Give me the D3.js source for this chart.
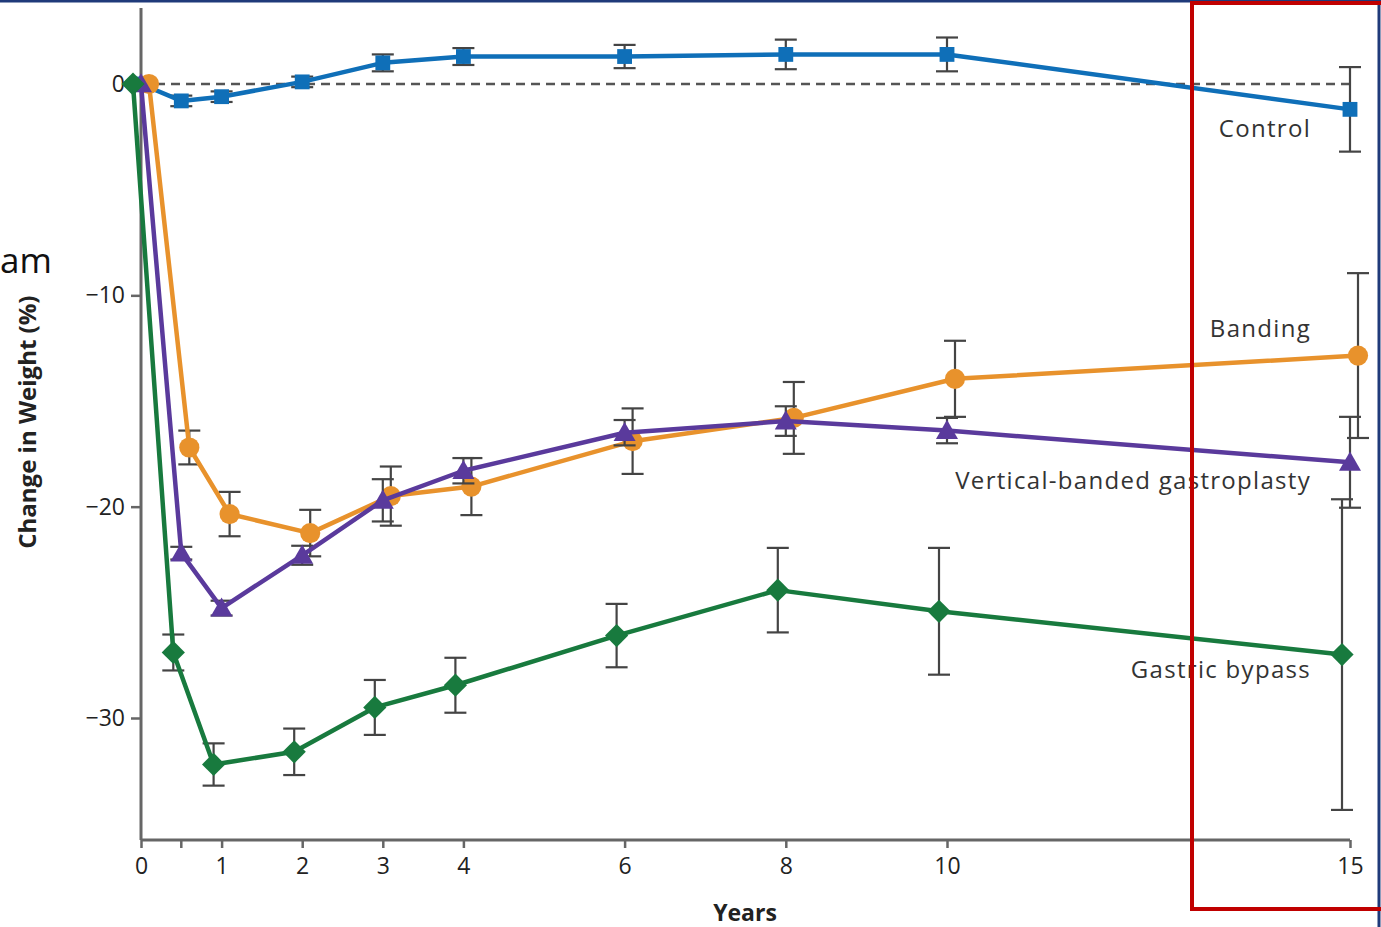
<!DOCTYPE html>
<html>
<head>
<meta charset="utf-8">
<script src="https://cdn.jsdelivr.net/npm/d3@7"></script>
<style>
  html, body { margin: 0; padding: 0; background: #fff; }
  svg { display: block; }
</style>
</head>
<body>
<svg id="chart" width="1381" height="927"></svg>
<script>
// ---- data ----
const years = [0, 0.5, 1, 2, 3, 4, 6, 8, 10, 15];
const xTickValues = [0, 1, 2, 3, 4, 6, 8, 10, 15];
const xMinorTicks = [0.5];
const yTickValues = [0, -10, -20, -30];

const controlValues = [0, -0.8, -0.6, 0.1, 1.0, 1.3, 1.3, 1.4, 1.4, -1.2];
const controlErrors = [0, 0.25, 0.25, 0.25, 0.4, 0.4, 0.55, 0.7, 0.8, 2.0];

const bandingValues = [0, -17.2, -20.35, -21.25, -19.5, -19.05, -16.9, -15.8, -13.95, -12.85];
const bandingErrors = [0, 0.8, 1.05, 1.1, 1.4, 1.35, 1.55, 1.7, 1.8, 3.9];

const vbgValues = [0, -22.2, -24.8, -22.3, -19.7, -18.3, -16.5, -15.95, -16.4, -17.9];
const vbgErrors = [0, 0.3, 0.35, 0.45, 1.0, 0.6, 0.6, 0.7, 0.6, 2.15];

const bypassValues = [0, -26.9, -32.2, -31.6, -29.5, -28.45, -26.1, -23.95, -24.95, -27.0];
const bypassErrors = [0, 0.85, 1.0, 1.1, 1.3, 1.3, 1.5, 2.0, 3.0, 7.35];

const seriesNames = ["Control", "Banding", "Vertical-banded gastroplasty", "Gastric bypass"];

// ---- styles ----
const styles = {
  "Control": { color: "#0f6fb8", symbol: d3.symbolSquare, size: 220, rotate: 0, dx: 0, labelY: -2.2 },
  "Banding": { color: "#e8922c", symbol: d3.symbolCircle, size: 320, rotate: 0, dx: 8, labelY: -11.65 },
  "Vertical-banded gastroplasty": { color: "#5a3a9c", symbol: d3.symbolTriangle, size: 210, rotate: 0, dx: 0, labelY: -18.85 },
  "Gastric bypass": { color: "#187a3e", symbol: d3.symbolSquare, size: 270, rotate: 45, dx: -8, labelY: -27.8 }
};

const series = [
  { name: seriesNames[0], values: controlValues, errors: controlErrors },
  { name: seriesNames[1], values: bandingValues, errors: bandingErrors },
  { name: seriesNames[2], values: vbgValues, errors: vbgErrors },
  { name: seriesNames[3], values: bypassValues, errors: bypassErrors }
];

const svg = d3.select("#chart");

const x = d3.scaleLinear().domain([0, 10, 15]).range([141, 947, 1350]);
const y = d3.scaleLinear().domain([0, -30]).range([84, 718]);
const yTop = 8, yBottom = 840;

const axisColor = "#666";
const labelFont = "'Open Sans', 'DejaVu Sans', sans-serif";

// zero dashed reference line
svg.append("line")
  .attr("x1", x(0)).attr("x2", x(15))
  .attr("y1", y(0)).attr("y2", y(0))
  .attr("stroke", "#555").attr("stroke-width", 2.5)
  .attr("stroke-dasharray", "9,6");

// axes
const yAxis = d3.axisLeft(y).tickValues(yTickValues).tickSize(10).tickFormat(d => d === 0 ? "0" : "\u2212" + Math.abs(d));
const yG = svg.append("g").attr("transform", `translate(${x(0)},0)`).call(yAxis);
yG.select(".domain").remove();
yG.append("line").attr("x1", 0).attr("x2", 0).attr("y1", yTop).attr("y2", yBottom)
  .attr("stroke", axisColor).attr("stroke-width", 3);
yG.selectAll(".tick line").attr("stroke", axisColor).attr("stroke-width", 2.5);
yG.selectAll(".tick text").attr("font-family", labelFont).attr("font-size", 23)
  .attr("fill", "#222").attr("x", -16);

const xAxis = d3.axisBottom(x).tickValues(xTickValues).tickSize(8).tickFormat(d3.format("d"));
const xG = svg.append("g").attr("transform", `translate(0,${yBottom})`).call(xAxis);
xG.select(".domain").remove();
xG.append("line").attr("x1", x(0)).attr("x2", x(15)).attr("y1", 0).attr("y2", 0)
  .attr("stroke", axisColor).attr("stroke-width", 3);
xG.selectAll(".tick line").attr("stroke", axisColor).attr("stroke-width", 2.5);
xG.selectAll(".tick text").attr("font-family", labelFont).attr("font-size", 23)
  .attr("fill", "#222").attr("y", 18);
xG.selectAll(".minor").data(xMinorTicks).enter().append("line")
  .attr("x1", d => x(d)).attr("x2", d => x(d)).attr("y1", 0).attr("y2", 8)
  .attr("stroke", axisColor).attr("stroke-width", 2.5);

// axis titles
svg.append("text")
  .attr("transform", `translate(36,${y(-16)}) rotate(-90)`)
  .attr("text-anchor", "middle")
  .attr("font-family", labelFont).attr("font-weight", "bold").attr("font-size", 24)
  .attr("fill", "#222")
  .text("Change in Weight (%)");

svg.append("text")
  .attr("x", 745).attr("y", 921)
  .attr("text-anchor", "middle")
  .attr("font-family", labelFont).attr("font-weight", "bold").attr("font-size", 23)
  .attr("fill", "#222")
  .text("Years");

// series
const line = d3.line();
series.forEach(s => {
  const st = styles[s.name];
  const pts = years.map((yr, i) => ({ px: x(yr) + st.dx, v: s.values[i], e: s.errors[i] }));
  const g = svg.append("g");
  // error bars
  const eb = g.selectAll(".eb").data(pts.filter(p => p.e > 0)).enter().append("g");
  eb.append("line").attr("x1", p => p.px).attr("x2", p => p.px)
    .attr("y1", p => y(p.v + p.e)).attr("y2", p => y(p.v - p.e))
    .attr("stroke", "#444").attr("stroke-width", 2.2);
  [1, -1].forEach(sign => {
    eb.append("line").attr("x1", p => p.px - 11).attr("x2", p => p.px + 11)
      .attr("y1", p => y(p.v + sign * p.e)).attr("y2", p => y(p.v + sign * p.e))
      .attr("stroke", "#444").attr("stroke-width", 2.2);
  });
  // line
  g.append("path")
    .attr("d", line(pts.map(p => [p.px, y(p.v)])))
    .attr("fill", "none").attr("stroke", st.color).attr("stroke-width", 4.5)
    .attr("stroke-linejoin", "round");
  // markers
  g.selectAll(".m").data(pts).enter().append("path")
    .attr("d", d3.symbol().type(st.symbol).size(st.size))
    .attr("transform", p => `translate(${p.px},${y(p.v) + (st.symbol === d3.symbolTriangle ? 2 : 0)}) rotate(${st.rotate})`)
    .attr("fill", st.color);
  // label
  svg.append("text")
    .attr("x", 1311).attr("y", y(st.labelY))
    .attr("text-anchor", "end").attr("dominant-baseline", "middle")
    .attr("font-family", labelFont).attr("font-size", 24)
    .attr("letter-spacing", 1.3)
    .attr("fill", "#333")
    .text(s.name);
});

// slide fragments: cropped word and frames
svg.append("text")
  .attr("x", 0).attr("y", 273)
  .attr("font-family", "'Open Sans', sans-serif").attr("font-size", 35)
  .attr("fill", "#111")
  .text("am");

svg.append("line").attr("x1", 0).attr("x2", 1381).attr("y1", 1).attr("y2", 1)
  .attr("stroke", "#1f3a7a").attr("stroke-width", 3);
svg.append("line").attr("x1", 1379).attr("x2", 1379).attr("y1", 0).attr("y2", 927)
  .attr("stroke", "#1f3a7a").attr("stroke-width", 3);
svg.append("rect")
  .attr("x", 1192).attr("y", 3).attr("width", 192).attr("height", 906)
  .attr("fill", "none").attr("stroke", "#c00000").attr("stroke-width", 4);
</script>
</body>
</html>
